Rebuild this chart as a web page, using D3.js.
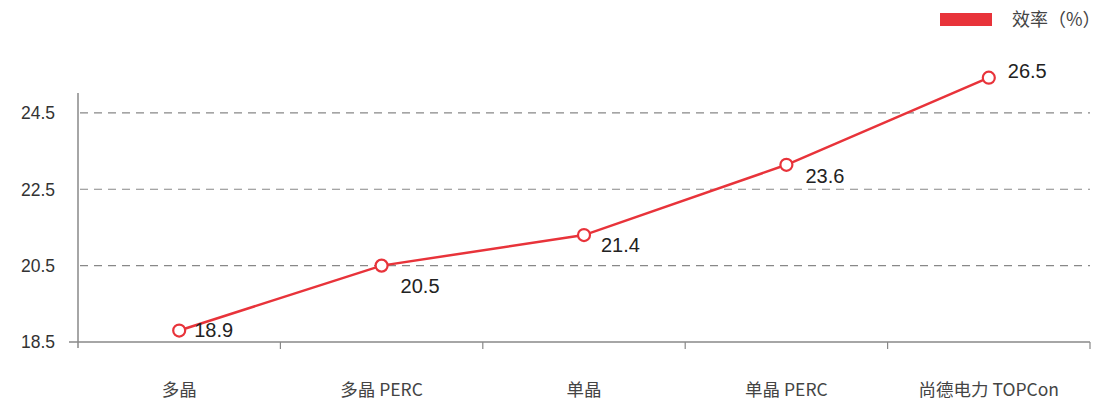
<!DOCTYPE html>
<html><head><meta charset="utf-8">
<script src="https://cdn.jsdelivr.net/npm/d3@7"></script>
<style>
html,body{margin:0;padding:0;background:#fff;}
svg{display:block;font-family:"Liberation Sans",Arial,"Noto Sans CJK SC",sans-serif;}
</style></head>
<body><svg id="c" width="1104" height="405"></svg>
<script>
// ---- data ----
const categories = ["多晶", "多晶 PERC", "单晶", "单晶 PERC", "尚德电力 TOPCon"];
// point heights
const values = [18.8, 20.5, 21.3, 23.14, 25.42];
// value labels printed beside each point
const valueLabels = ["18.9", "20.5", "21.4", "23.6", "26.5"];
const yTicks = [18.5, 20.5, 22.5, 24.5];
const seriesName = "效率（%）";

// ---- layout ----
const labelOffsets = [[15, 6], [19, 27], [17, 17], [19, 18], [19, 0]];
const svg = d3.select("#c");
const x = d3.scaleBand().domain(categories).range([78, 1090]);
const y = d3.scaleLinear().domain([18.5, 25.02]).range([342, 93]);
const red = "#e8333a";

// grid lines
svg.append("g").selectAll("line").data(yTicks.filter(t => t > 18.5)).join("line")
  .attr("x1", 80).attr("x2", 1090)
  .attr("y1", d => y(d)).attr("y2", d => y(d))
  .attr("stroke", "#888").attr("stroke-width", 1.2).attr("stroke-dasharray", "8,6");

// y tick labels
svg.append("g").selectAll("text").data(yTicks).join("text")
  .attr("x", 55).attr("y", d => y(d)).attr("dy", "0.36em")
  .attr("text-anchor", "end").attr("font-size", 17.5).attr("fill", "#333")
  .text(d => d3.format(".1f")(d));

// tick marks at band boundaries
const bounds = categories.map(c => x(c) + x.bandwidth());
svg.append("g").selectAll("line").data(bounds).join("line")
  .attr("x1", d => d).attr("x2", d => d)
  .attr("y1", y(18.5)).attr("y2", y(18.5) + 7)
  .attr("stroke", "#888").attr("stroke-width", 1.2);
svg.append("line").attr("x1", 69).attr("x2", 1090)
  .attr("y1", y(18.5)).attr("y2", y(18.5))
  .attr("stroke", "#888").attr("stroke-width", 1.5);
// y axis line
svg.append("line").attr("x1", 78).attr("x2", 78)
  .attr("y1", y.range()[1]).attr("y2", y(18.5) + 6)
  .attr("stroke", "#888").attr("stroke-width", 1.5);

// category labels
svg.append("g").selectAll("text").data(categories).join("text")
  .attr("x", d => x(d) + x.bandwidth() / 2).attr("y", 390).attr("dy", "0.36em")
  .attr("text-anchor", "middle").attr("font-size", 17.5).attr("fill", "#444")
  .attr("font-family", "'Noto Sans CJK SC','Noto Sans',sans-serif")
  .text(d => d);

// line
const pts = categories.map((c, i) => ({c, v: values[i], l: valueLabels[i], i}));
const line = d3.line().x(d => x(d.c) + x.bandwidth() / 2).y(d => y(d.v));
svg.append("path").datum(pts).attr("d", line)
  .attr("fill", "none").attr("stroke", red).attr("stroke-width", 2.5);

svg.append("g").selectAll("circle").data(pts).join("circle")
  .attr("cx", d => x(d.c) + x.bandwidth() / 2).attr("cy", d => y(d.v)).attr("r", 6)
  .attr("fill", "#fff").attr("stroke", red).attr("stroke-width", 2.2);

svg.append("g").selectAll("text").data(pts).join("text")
  .attr("x", d => x(d.c) + x.bandwidth() / 2 + labelOffsets[d.i][0])
  .attr("y", d => y(d.v) + labelOffsets[d.i][1])
  .attr("font-size", 20).attr("fill", "#222")
  .text(d => d.l);

// legend
svg.append("rect").attr("x", 940).attr("y", 13).attr("width", 52).attr("height", 13).attr("fill", red);
svg.append("text").attr("x", 1012).attr("y", 20).attr("dy", "0.36em")
  .attr("font-size", 18).attr("fill", "#444")
  .attr("font-family", "'Noto Sans CJK SC','Noto Sans',sans-serif")
  .text(seriesName);
</script></body></html>
